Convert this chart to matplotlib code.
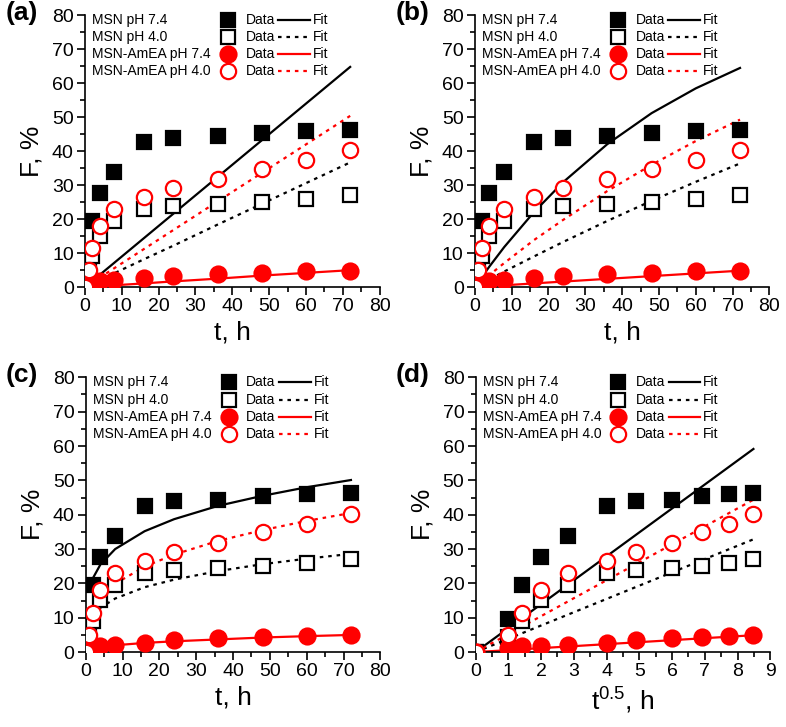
"""Release kinetics of MSN and MSN-AmEA at pH 7.4 / 4.0 with four model fits."""

import numpy as np
import matplotlib

matplotlib.use("Agg")
import matplotlib.pyplot as plt
from matplotlib.ticker import MultipleLocator

plt.rcParams["font.family"] = ["Liberation Sans", "DejaVu Sans"]
plt.rcParams["mathtext.default"] = "regular"

# sampling times, h
t_h = [0, 1, 2, 4, 8, 16, 24, 36, 48, 60, 72]

# measured release F, %
msn_74 = [0, 9.7, 19.6, 27.8, 33.8, 42.6, 44.0, 44.4, 45.4, 46.0, 46.2]
msn_40 = [0, 4.5, 9.2, 15.1, 19.6, 22.9, 23.8, 24.4, 25.1, 26.0, 27.0]
amea_74 = [0, 1.2, 1.7, 1.7, 2.0, 2.7, 3.4, 4.0, 4.3, 4.7, 4.9]
amea_40 = [0, 5.1, 11.4, 18.1, 22.9, 26.6, 29.2, 31.8, 34.9, 37.4, 40.3]

# (a) zero-order fits, evaluated at t_h
zero_msn_74 = [0, 0.9, 1.8, 3.6, 7.2, 14.4, 21.6, 32.4, 43.2, 54.0, 64.8]
zero_msn_40 = [0, 0.51, 1.0, 2.0, 4.1, 8.2, 12.2, 18.4, 24.5, 30.6, 36.7]
zero_amea_74 = [0, 0.07, 0.14, 0.28, 0.56, 1.1, 1.7, 2.5, 3.4, 4.2, 5.0]
zero_amea_40 = [0, 0.70, 1.4, 2.8, 5.6, 11.2, 16.8, 25.2, 33.6, 42.0, 50.4]

# (b) first-order fits
first_msn_74 = [0, 1.6, 3.1, 6.1, 11.8, 22.0, 30.9, 42.1, 51.2, 58.5, 64.5]
first_msn_40 = [0, 0.58, 1.2, 2.3, 4.6, 9.0, 13.3, 19.5, 25.4, 31.0, 36.4]
first_amea_74 = [0, 0.07, 0.14, 0.28, 0.55, 1.1, 1.65, 2.45, 3.25, 4.05, 4.85]
first_amea_40 = [0, 0.9, 1.8, 3.6, 7.1, 13.8, 19.8, 28.3, 36.0, 43.0, 49.3]

# (c) Korsmeyer-Peppas fits (t from 1 h)
kp_t = [1, 2, 4, 8, 16, 24, 36, 48, 60, 72]
kp_msn_74 = [18.4, 21.6, 25.5, 30.0, 35.2, 38.7, 42.6, 45.5, 48.0, 50.1]
kp_msn_40 = [8.8, 10.6, 12.9, 15.6, 18.9, 21.1, 23.6, 25.6, 27.2, 28.6]
kp_amea_74 = [0.84, 1.12, 1.5, 2.0, 2.68, 3.15, 3.7, 4.25, 4.65, 5.0]
kp_amea_40 = [10.2, 12.7, 15.9, 19.9, 24.9, 28.4, 32.4, 35.5, 38.2, 40.5]

# (d) Higuchi fits vs t^0.5
hig_msn_74 = [0, 6.97, 9.86, 13.94, 19.71, 27.88, 34.15, 41.82, 48.29, 53.99, 59.14]
hig_msn_40 = [0, 3.87, 5.47, 7.74, 10.94, 15.48, 18.96, 23.22, 26.81, 29.98, 32.84]
hig_amea_74 = [0, 0.58, 0.82, 1.16, 1.64, 2.32, 2.84, 3.48, 4.02, 4.49, 4.92]
hig_amea_40 = [0, 5.23, 7.40, 10.46, 14.79, 20.92, 25.62, 31.38, 36.23, 40.51, 44.38]

names = ["MSN pH 7.4", "MSN pH 4.0", "MSN-AmEA pH 7.4", "MSN-AmEA pH 4.0"]
data = [msn_74, msn_40, amea_74, amea_40]

RED = "#ff0000"
DOT = (0, (1.6, 2.2))
styles = [
    dict(color="black", marker="s", ms=10.5, mfc="black", ls="-"),
    dict(color="black", marker="s", ms=10, mfc="white", ls=DOT),
    dict(color=RED, marker="o", ms=11.5, mfc=RED, ls="-"),
    dict(color=RED, marker="o", ms=11, mfc="white", ls=DOT),
]


def draw_panel(ax, x, fit_x, fits, letter, xlabel, xmax, xstep):
    for fx, fy, st in zip(fit_x, fits, styles):
        ax.plot(fx, fy, color=st["color"], ls=st["ls"], lw=1.6, zorder=2)
    for y, st in zip(data, styles):
        ax.plot(x, y, ls="none", marker=st["marker"], ms=st["ms"],
                mfc=st["mfc"], mec=st["color"], mew=1.6, zorder=3)

    # Origin-style legend
    rows = [0.982, 0.919, 0.857, 0.794]
    for yy, name, st in zip(rows, names, styles):
        kw = dict(transform=ax.transAxes, fontsize=10, va="center", ha="left")
        ax.text(0.024, yy, name, **kw)
        ax.plot([0.485], [yy], ls="none", marker=st["marker"], ms=st["ms"],
                mfc=st["mfc"], mec=st["color"], mew=1.6,
                transform=ax.transAxes, clip_on=False)
        ax.text(0.545, yy, "Data", **kw)
        ax.plot([0.656, 0.763], [yy, yy], color=st["color"], ls=st["ls"],
                lw=1.6, transform=ax.transAxes, clip_on=False)
        ax.text(0.773, yy, "Fit", **kw)

    ax.set_xlim(0, xmax)
    ax.set_ylim(0, 80)
    ax.xaxis.set_major_locator(MultipleLocator(xstep))
    ax.xaxis.set_minor_locator(MultipleLocator(xstep / 2))
    ax.yaxis.set_major_locator(MultipleLocator(10))
    ax.yaxis.set_minor_locator(MultipleLocator(5))
    for s in ("top", "right"):
        ax.spines[s].set_visible(False)
    for s in ("left", "bottom"):
        ax.spines[s].set_linewidth(1.2)
    ax.tick_params(which="major", direction="out", length=6, width=1.2,
                   labelsize=14, pad=2)
    ax.tick_params(which="minor", direction="out", length=3.5, width=1.2)
    ax.set_xlabel(xlabel, fontsize=19, labelpad=4)
    ax.set_ylabel("F, %", fontsize=19, labelpad=6)
    ax.text(-0.27, 1.01, letter, transform=ax.transAxes, fontsize=19,
            fontweight="bold", ha="left", va="center")


fig = plt.figure(figsize=(7.86, 7.27), dpi=100)
ax_a = fig.add_axes([0.108, 0.605, 0.375, 0.374])
ax_b = fig.add_axes([0.604, 0.605, 0.375, 0.374])
ax_c = fig.add_axes([0.109, 0.103, 0.375, 0.378])
ax_d = fig.add_axes([0.605, 0.103, 0.375, 0.378])

sqrt_t = np.sqrt(t_h)

draw_panel(ax_a, t_h, [t_h] * 4,
           [zero_msn_74, zero_msn_40, zero_amea_74, zero_amea_40],
           "(a)", "t, h", 80, 10)
draw_panel(ax_b, t_h, [t_h] * 4,
           [first_msn_74, first_msn_40, first_amea_74, first_amea_40],
           "(b)", "t, h", 80, 10)
draw_panel(ax_c, t_h, [kp_t] * 4,
           [kp_msn_74, kp_msn_40, kp_amea_74, kp_amea_40],
           "(c)", "t, h", 80, 10)
draw_panel(ax_d, sqrt_t, [sqrt_t] * 4,
           [hig_msn_74, hig_msn_40, hig_amea_74, hig_amea_40],
           "(d)", "t$^{0.5}$, h", 9, 1)

fig.savefig("out.png", dpi=100)
